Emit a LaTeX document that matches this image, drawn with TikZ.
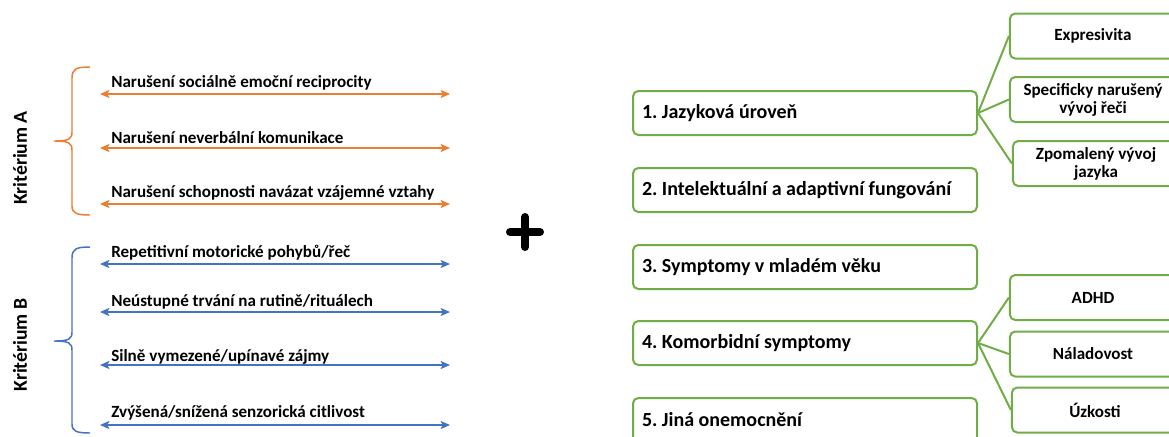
\documentclass[tikz,border=0pt]{standalone}
\definecolor{OrangeColor}{RGB}{237,125,49}
\definecolor{BlueColor}{RGB}{68,114,196}
\definecolor{GreenColor}{RGB}{112,173,71}
\usepackage{fontspec}
\setmainfont{Carlito}
\usepackage{tikz}
\usetikzlibrary{positioning, arrows.meta}
\tikzstyle{arrowA} = [line width=1.1pt, OrangeColor, {Stealth[length=7pt, width=6pt, inset=1.5pt]}-{Stealth[length=7pt, width=6pt, inset=1.5pt]}]
\tikzstyle{arrowB} = [line width=1.1pt, BlueColor, {Stealth[length=7pt, width=6pt, inset=1.5pt]}-{Stealth[length=7pt, width=6pt, inset=1.5pt]}]
\tikzstyle{crit} = [anchor=west, inner sep=0pt, font=\bfseries\fontsize{12.8}{14}\selectfont]
\tikzstyle{mainbox} = [draw=GreenColor, line width=1.5pt, rounded corners=4pt, fill=white, minimum width=258pt, minimum height=33pt, text width=244.5pt, inner xsep=6.75pt, align=left, font=\bfseries\fontsize{15}{17}\selectfont, execute at begin node={\spaceskip=0.226em\xspaceskip=0.226em}]
\tikzstyle{subbox} = [draw=GreenColor, line width=1.5pt, rounded corners=4pt, fill=white, minimum width=121.5pt, minimum height=33.75pt, text width=118pt, align=center, font=\bfseries\fontsize{12.8}{13.5}\selectfont, execute at begin node={\spaceskip=0.226em\xspaceskip=0.226em}]
\tikzstyle{link} = [line width=1.5pt, GreenColor]

\begin{document}
\begin{tikzpicture}[x=0.75pt, y=-0.75pt]
                \useasboundingbox (0,0) rectangle (1169,436);
                \clip (0,0) rectangle (1169,436);

                % Criterion A
                \node[rotate=90, font=\bfseries\fontsize{14.8}{16}\selectfont] (kritA) at (20,158) {Kritérium A};
                \draw[OrangeColor, line width=1.1pt] (90,67) .. controls (76,67) and (72,69) .. (72,78) -- (72,132)
                    .. controls (72,139) and (69,141) .. (54,141) .. controls (69,141) and (72,143) .. (72,150)
                    -- (72,206) .. controls (72,213) and (76,215) .. (90,215);
                \coordinate (a1l) at (100,94);  \coordinate (a1r) at (450,94);
                \coordinate (a2l) at (100,148); \coordinate (a2r) at (450,148);
                \coordinate (a3l) at (100,204); \coordinate (a3r) at (450,204);
                \draw[arrowA] (a1l) -- (a1r);
                \draw[arrowA] (a2l) -- (a2r);
                \draw[arrowA] (a3l) -- (a3r);
                \node[crit] (recip) at (111,83) {Narušení sociálně emoční reciprocity};
                \node[crit] (nonverb) at (111,138) {Narušení neverbální komunikace};
                \node[crit] (relat) at (111,193) {Narušení schopnosti navázat vzájemné vztahy};

                % Criterion B
                \node[rotate=90, font=\bfseries\fontsize{14.8}{16}\selectfont] (kritB) at (20,345) {Kritérium B};
                \draw[BlueColor, line width=1.1pt] (90,247) .. controls (76,247) and (72,249) .. (72,258) -- (72,332)
                    .. controls (72,339) and (69,341) .. (54,341) .. controls (69,341) and (72,343) .. (72,350)
                    -- (72,424) .. controls (72,431) and (76,433) .. (90,433);
                \coordinate (b1l) at (100,264); \coordinate (b1r) at (450,264);
                \coordinate (b2l) at (100,312); \coordinate (b2r) at (450,312);
                \coordinate (b3l) at (100,365); \coordinate (b3r) at (450,365);
                \coordinate (b4l) at (100,425); \coordinate (b4r) at (450,425);
                \draw[arrowB] (b1l) -- (b1r);
                \draw[arrowB] (b2l) -- (b2r);
                \draw[arrowB] (b3l) -- (b3r);
                \draw[arrowB] (b4l) -- (b4r);
                \node[crit] (repet) at (111,253) {Repetitivní motorické pohybů/řeč};
                \node[crit] (routine) at (111,302) {Neústupné trvání na rutině/rituálech};
                \node[crit] (interest) at (111,357) {Silně vymezené/upínavé zájmy};
                \node[crit] (sensor) at (111,413) {Zvýšená/snížená senzorická citlivost};

                % Plus sign
                \draw[line width=6pt, line cap=round] (510,232) -- (540,232);
                \draw[line width=6pt, line cap=round] (525,217) -- (525,247);

                % Specifiers
                \node[mainbox] (lang) at (805,113) {1. Jazyková úroveň};
                \node[mainbox] (intel) at (805,190) {2. Intelektuální a adaptivní fungování};
                \node[mainbox] (early) at (805,267) {3. Symptomy v mladém věku};
                \node[mainbox] (comorb) at (805,343) {4. Komorbidní symptomy};
                \node[mainbox] (other) at (805,420) {5. Jiná onemocnění};

                % Language branches
                \node[subbox] (expr) at (1093,36) {Expresivita};
                \node[subbox] (spec) at (1093,99.5) {Specificky narušený\\vývoj řeči};
                \node[subbox] (slow) at (1096,163.5) {Zpomalený vývoj\\jazyka};
                \draw[link] (lang.east) -- (expr.west);
                \draw[link] (lang.east) -- (spec.west);
                \draw[link] (lang.east) -- (slow.west);

                % Comorbidity branches
                \node[subbox] (adhd) at (1093,297.5) {ADHD};
                \node[subbox] (mood) at (1093,354) {Náladovost};
                \node[subbox] (anx) at (1095,410) {Úzkosti};
                \draw[link] (comorb.east) -- (adhd.west);
                \draw[link] (comorb.east) -- (mood.west);
                \draw[link] (comorb.east) -- (anx.west);
            \end{tikzpicture}
\end{document}
